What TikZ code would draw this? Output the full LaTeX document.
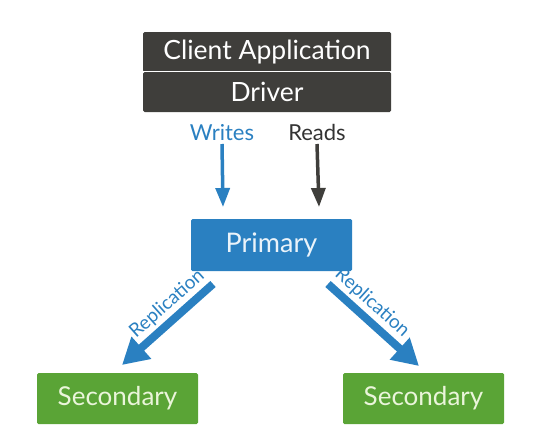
\documentclass[tikz,border=0pt]{standalone}
\usepackage{fontspec}
\setmainfont{Lato}
\usetikzlibrary{arrows.meta}
\definecolor{darkbox}{HTML}{3F3E3B}
\definecolor{pblue}{HTML}{2A80C1}
\definecolor{sgreen}{HTML}{5AA436}
\definecolor{gtext}{HTML}{EAF5DA}
\definecolor{btext}{HTML}{EAF3FA}
\definecolor{rtext}{HTML}{333333}
\tikzset{
  boxbase/.style={draw=none, rounded corners=1.5pt, inner sep=0pt, text=white},
  clientbox/.style={boxbase, fill=darkbox, minimum width=248pt, minimum height=40pt, font=\fontsize{26.5}{28}\selectfont},
  primbox/.style={boxbase, fill=pblue, text=btext, minimum width=161pt, minimum height=52pt, font=\fontsize{27}{28}\selectfont},
  secbox/.style={boxbase, fill=sgreen, text=gtext, minimum width=161pt, minimum height=51pt, font=\fontsize{26}{28}\selectfont},
  rwlabel/.style={inner sep=0pt, font=\fontsize{22}{24}\selectfont},
  rwarrow/.style={line width=3.5pt, -{Triangle[width=14pt,length=19pt]}},
  reparrow/.style={line width=8pt, pblue, -{Triangle[width=28pt,length=26pt]}},
  replabel/.style={inner sep=0pt, text=pblue, font=\fontsize{19}{21}\selectfont},
}
\begin{document}
\begin{tikzpicture}[x=1pt,y=-1pt]
\useasboundingbox (0,0) rectangle (540,439);
\node[clientbox] (client) at (267,52) {Client Application};
\node[clientbox] (driver) at (267,92) {Driver};
\draw[white, line width=1pt] (driver.north west) -- (driver.north east);
\node[rwlabel, text=pblue, anchor=base] (writes) at (222,140) {Writes};
\node[rwlabel, text=rtext, anchor=base] (reads) at (317,140) {Reads};
\node[primbox] (primary) at (271.5,245) {Primary};
\node[secbox] (sec1) at (117.5,398.5) {Secondary};
\node[secbox] (sec2) at (423.5,398.5) {Secondary};
\coordinate (wtip) at (223,207);
\coordinate (rtip) at (319,207);
\draw[rwarrow, pblue] (writes.south |- 0,144) -- (wtip);
\draw[rwarrow, darkbox] (reads.south |- 0,144) -- (rtip);
\coordinate (l1) at (213,284);
\coordinate (l2) at (122,365);
\coordinate (r1) at (328,284);
\coordinate (r2) at (419,366);
\draw[reparrow] (l1) -- (l2) node[replabel, pos=0.39, sloped, above=3pt] (rep1) {Replication};
\draw[reparrow] (r1) -- (r2) node[replabel, pos=0.37, sloped, above=3pt] (rep2) {Replication};
\end{tikzpicture}
\end{document}
